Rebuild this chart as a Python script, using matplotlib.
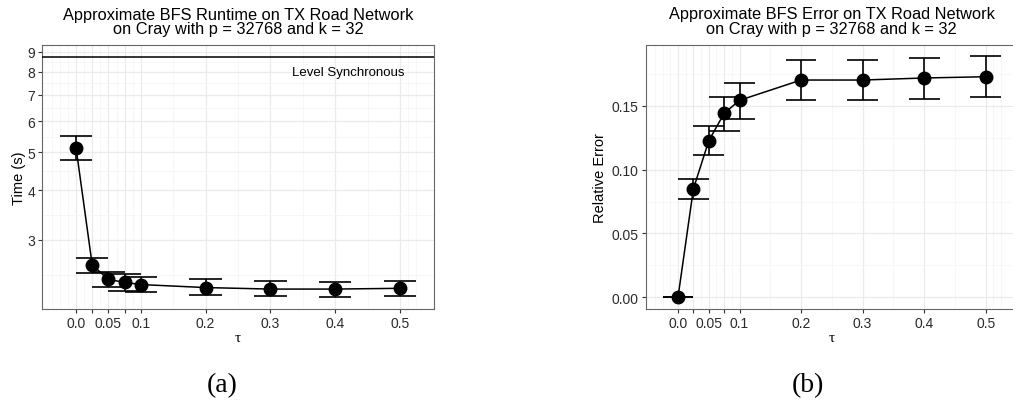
import numpy as np
import matplotlib
matplotlib.use("Agg")
import matplotlib.pyplot as plt
from matplotlib.ticker import FixedLocator, NullFormatter

tau = [0.0, 0.025, 0.05, 0.075, 0.1, 0.2, 0.3, 0.4, 0.5]

time_mean = [5.14, 2.59, 2.38, 2.34, 2.31, 2.27, 2.25, 2.25, 2.26]
time_lo = [4.77, 2.475, 2.28, 2.23, 2.21, 2.17, 2.16, 2.15, 2.16]
time_hi = [5.51, 2.70, 2.49, 2.45, 2.42, 2.38, 2.36, 2.35, 2.36]
level_sync = 8.72

err_mean = [0.0, 0.085, 0.1227, 0.1442, 0.1544, 0.1703, 0.1703, 0.1719, 0.1729]
err_lo = [0.0, 0.077, 0.1115, 0.1303, 0.1397, 0.1544, 0.1549, 0.1556, 0.1567]
err_hi = [0.0, 0.0929, 0.1342, 0.157, 0.1679, 0.186, 0.1857, 0.1875, 0.1889]

x_ticks = [0.0, 0.025, 0.05, 0.075, 0.1, 0.2, 0.3, 0.4, 0.5]
x_labels = ["0.0", "", "0.05", "", "0.1", "0.2", "0.3", "0.4", "0.5"]
x_minor = [-0.0375, -0.025, -0.0125, 0.0125, 0.0375, 0.0625, 0.0875,
           0.15, 0.25, 0.35, 0.45, 0.5125, 0.525]

time_ticks = [3, 4, 5, 6, 7, 8, 9]
err_ticks = [0.00, 0.05, 0.10, 0.15]
err_labels = ["0.00", "0.05", "0.10", "0.15"]

plt.rcParams["font.family"] = ["Liberation Sans", "DejaVu Sans"]
SERIF = ["Liberation Serif", "DejaVu Serif"]

W, H = 1013, 402
fig = plt.figure(figsize=(W / 100, H / 100), dpi=100)

ax1 = fig.add_axes([42 / W, 1 - 310 / H, 392 / W, 264 / H])
ax2 = fig.add_axes([645.7 / W, 1 - 310 / H, 372.3 / W, 264.3 / H])

TXT = "#2b2b2b"


def style(ax):
    ax.set_facecolor("white")
    for s in ax.spines.values():
        s.set_color("#666666")
        s.set_linewidth(0.8)
    ax.grid(True, which="major", color="#ebebeb", linewidth=0.9, zorder=0)
    ax.grid(True, which="minor", color="#f4f4f4", linewidth=0.5, zorder=0)
    ax.set_axisbelow(True)
    ax.tick_params(which="major", length=3, width=0.8, color="#333333",
                   labelsize=10, labelcolor=TXT, pad=2)
    ax.tick_params(which="minor", length=0)
    ax.xaxis.set_major_locator(FixedLocator(x_ticks))
    ax.set_xticklabels(x_labels)
    ax.xaxis.set_minor_locator(FixedLocator(x_minor))
    ax.set_xlim(-0.0525, 0.5525)
    ax.set_xlabel("τ", family=SERIF, fontsize=11)
    ax.xaxis.set_label_coords(0.5, -0.085)


def draw(ax, x, m, lo, hi):
    ax.vlines(x, lo, hi, color="black", linewidth=1.2, zorder=3)
    xs = np.array(x)
    ax.hlines(lo, xs - 0.025, xs + 0.025, color="black", linewidth=1.2, zorder=3)
    ax.hlines(hi, xs - 0.025, xs + 0.025, color="black", linewidth=1.2, zorder=3)
    ax.plot(x, m, "-o", color="black", linewidth=1.1, markersize=9, zorder=4)


# (a) runtime
style(ax1)
ax1.set_yscale("log")
ax1.set_ylim(2.003, 9.35)
ax1.yaxis.set_major_locator(FixedLocator(time_ticks))
ax1.set_yticklabels([str(t) for t in time_ticks])
mids = [np.sqrt(a * b) for a, b in zip([2] + time_ticks[:-1], time_ticks)]
ax1.yaxis.set_minor_locator(FixedLocator(mids))
ax1.yaxis.set_minor_formatter(NullFormatter())
ax1.axhline(level_sync, color="black", linewidth=1.1, zorder=3)
ax1.text(0.42, 7.98, "Level Synchronous", fontsize=9.5, ha="center",
         va="center", color="black")
draw(ax1, tau, time_mean, time_lo, time_hi)
ax1.set_ylabel("Time (s)", fontsize=10.5)
ax1.yaxis.set_label_coords(-0.042, 0.5)
ax1.set_title("Approximate BFS Runtime on TX Road Network\non Cray with p = 32768 and k = 32",
              fontsize=11.8, pad=8.5, linespacing=0.95)

# (b) error
style(ax2)
ax2.set_ylim(-0.0092, 0.198)
ax2.yaxis.set_major_locator(FixedLocator(err_ticks))
ax2.set_yticklabels(err_labels)
ax2.yaxis.set_minor_locator(FixedLocator([-0.025, 0.025, 0.075, 0.125, 0.175]))
draw(ax2, tau, err_mean, err_lo, err_hi)
ax2.set_ylabel("Relative Error", fontsize=10.5)
ax2.yaxis.set_label_coords(-0.104, 0.5)
ax2.set_title("Approximate BFS Error on TX Road Network\non Cray with p = 32768 and k = 32",
              fontsize=11.8, pad=8.5, linespacing=0.95)

fig.text(222 / W, 1 - 386 / H, "(a)", family=SERIF,
         fontsize=20, ha="center", va="center")
fig.text(808 / W, 1 - 386 / H, "(b)", family=SERIF,
         fontsize=20, ha="center", va="center")

fig.savefig("out.png", dpi=100)
